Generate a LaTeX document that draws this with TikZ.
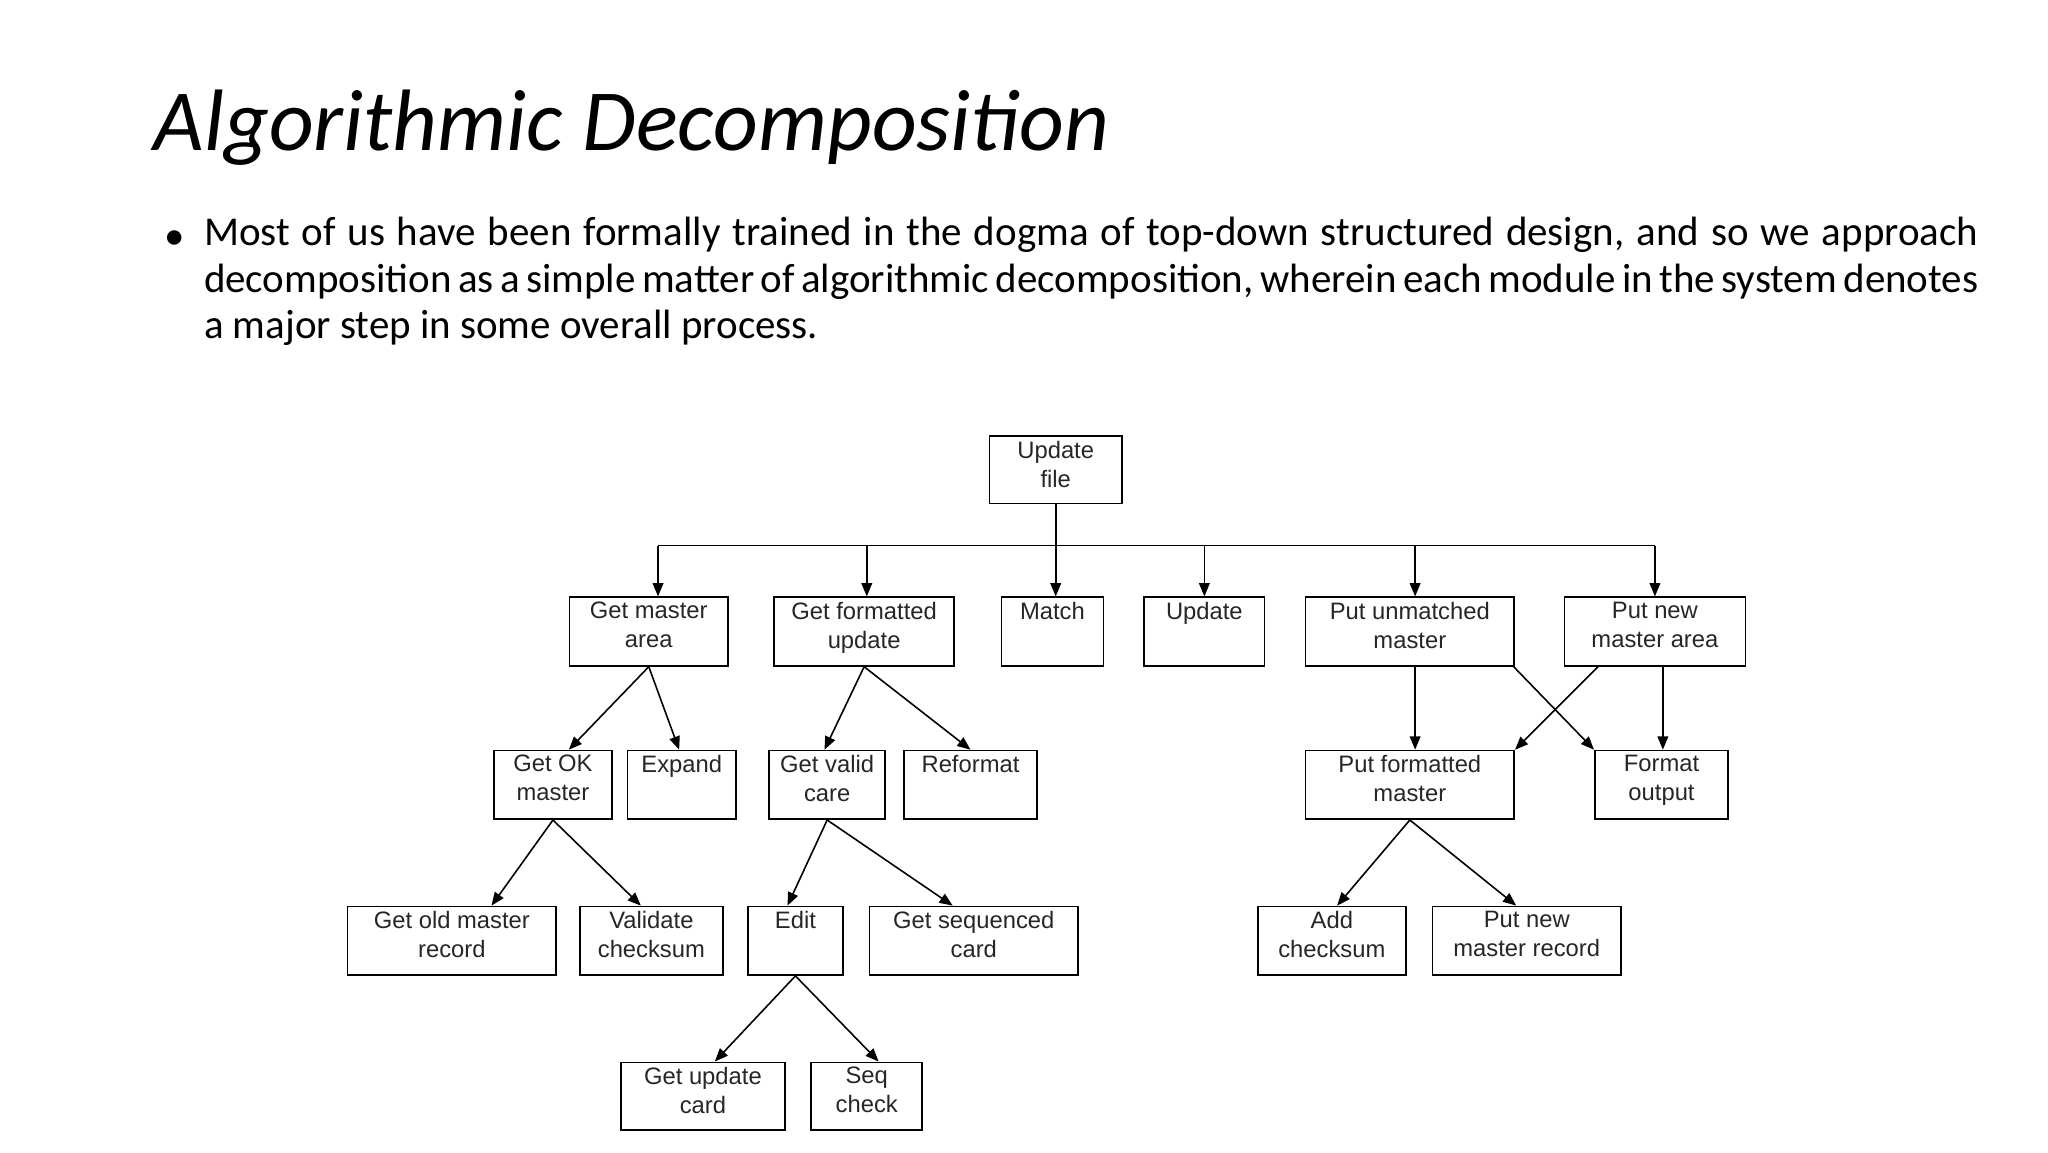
\documentclass[tikz,border=0pt]{standalone}
\usepackage{fontspec}
\setmainfont{Carlito}
\newfontfamily\arialf{Liberation Sans}
\usetikzlibrary{arrows.meta}
\tikzset{
  box/.style={draw, line width=0.6pt, inner sep=0pt, align=center, font=\arialf\fontsize{9}{11}\selectfont, text=black!85},
  arr/.style={-{Triangle[length=5pt,width=4pt]}, line width=0.6pt},
  ln/.style={line width=0.6pt}
}
\newcommand{\bx}[6]{\node[box, minimum width={(#4-#2)*0.5pt}, minimum height={(#5-#3)*0.5pt}] (#1) at ({(#2+#4)/2},{(#3+#5)/2}) {};
  \node[box, draw=none, anchor=north] at ({(#2+#4)/2},{#3+3}) {#6};}
\begin{document}
\begin{tikzpicture}[x=0.5pt,y=-0.5pt]
\useasboundingbox (0,0) rectangle (1550,872);
\node[anchor=base west, inner sep=0pt, font=\fontsize{33}{40}\selectfont\itshape] (title) at (116,114) {Algorithmic Decomposition};
\node[anchor=base west, inner sep=0pt, font=\fontsize{15.5}{17.6}\selectfont] (bul) at (124,189) {•};
\node[anchor=north west, inner sep=0pt, text width=671.5pt, align=justify, font=\fontsize{15.5}{17.6}\selectfont] (body) at (154,164) {Most of us have been formally trained in the dogma of top-down structured design, and so we approach decomposition as a simple matter of algorithmic decomposition, wherein each module in the system denotes a major step in some overall process.};
\bx{uf}{749}{330}{849}{381}{Update\\file}
\bx{gma}{431}{452}{551}{504}{Get master\\area}
\bx{gfu}{586}{452}{722}{504}{Get formatted\\update}
\bx{mt}{758}{452}{835}{504}{Match}
\bx{up}{866}{452}{957}{504}{Update}
\bx{pum}{988}{452}{1146}{504}{Put unmatched\\master}
\bx{pna}{1184}{452}{1321}{504}{Put new\\master area}
\bx{gok}{374}{568}{463}{620}{Get OK\\master}
\bx{ex}{475}{568}{557}{620}{Expand}
\bx{gvc}{582}{568}{670}{620}{Get valid\\care}
\bx{ref}{684}{568}{785}{620}{Reformat}
\bx{pfm}{988}{568}{1146}{620}{Put formatted\\master}
\bx{fo}{1207}{568}{1308}{620}{Format\\output}
\bx{gom}{263}{686}{421}{738}{Get old master\\record}
\bx{vc}{439}{686}{547}{738}{Validate\\checksum}
\bx{ed}{566}{686}{638}{738}{Edit}
\bx{gsc}{658}{686}{816}{738}{Get sequenced\\card}
\bx{ac}{952}{686}{1064}{738}{Add\\checksum}
\bx{pnr}{1084}{686}{1227}{738}{Put new\\master record}
\bx{guc}{470}{804}{594}{855}{Get update\\card}
\bx{sc}{614}{804}{698}{855}{Seq\\check}
\coordinate (bus) at (0,413);
\draw[ln] ([xshift=3.5pt]gma.north|-bus) -- (pna.north|-bus);
\draw[arr] (uf.south) -- (uf.south|-mt.north);
\foreach \n/\dx in {gma/3.5,gfu/1,up/0,pum/2,pna/0}
  \draw[arr] ([xshift=\dx pt]\n.north|-bus) -- ([xshift=\dx pt]\n.north);
\draw[arr] (gma.south) -- ([xshift=6pt]gok.north);
\draw[arr] (gma.south) -- ([xshift=-1pt]ex.north);
\draw[arr] (gfu.south) -- ([xshift=-1pt]gvc.north);
\draw[arr] (gfu.south) -- (ref.north);
\draw[arr] (gok.south) -- ([xshift=15pt]gom.north);
\draw[arr] (gok.south) -- ([xshift=-4pt]vc.north);
\draw[arr] (gvc.south) -- ([xshift=-3pt]ed.north);
\draw[arr] (gvc.south) -- ([xshift=-8pt]gsc.north);
\draw[arr] (ed.south) -- ([xshift=4.5pt]guc.north);
\draw[arr] (ed.south) -- ([xshift=4.5pt]sc.north);
\draw[arr] ([xshift=2pt]pum.south) -- ([xshift=2pt]pfm.north);
\draw[arr] ([xshift=-0.5pt]pum.south east) -- (fo.north west);
\draw[arr] ([xshift=13pt]pna.south west) -- (pfm.north east);
\draw[arr] ([xshift=0.5pt]fo.north|-pna.south) -- ([xshift=0.5pt]fo.north);
\draw[arr] (pfm.south) -- ([xshift=2pt]ac.north);
\draw[arr] (pfm.south) -- ([xshift=-4pt]pnr.north);
\end{tikzpicture}
\end{document}
